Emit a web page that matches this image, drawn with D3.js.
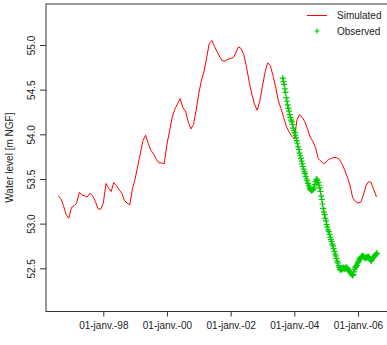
<!DOCTYPE html>
<html>
<head>
<meta charset="utf-8">
<script src="https://cdn.jsdelivr.net/npm/d3@7"></script>
<style>
  html, body { margin: 0; padding: 0; background: #fff; }
  svg { display: block; font-family: "Liberation Sans", Arial, sans-serif; }
</style>
</head>
<body>
<div id="chart"></div>
<script>
// Simulated water level, one value per month starting Aug 1996
const simStart = '1996-08-01';
const simValues = [
  53.31, 53.28, 53.20, 53.10, 53.06, 53.18, 53.20, 53.23, 53.35, 53.32,
  53.31, 53.30, 53.34, 53.31, 53.25, 53.17, 53.16, 53.23, 53.45, 53.40,
  53.36, 53.46, 53.43, 53.38, 53.34, 53.26, 53.23, 53.21, 53.39, 53.50,
  53.65, 53.78, 53.93, 53.99, 53.90, 53.82, 53.78, 53.72, 53.68, 53.68,
  53.67, 53.89, 54.04, 54.19, 54.28, 54.34, 54.40, 54.30, 54.26, 54.14,
  54.06, 54.11, 54.27, 54.46, 54.61, 54.70, 54.86, 55.02, 55.05, 54.98,
  54.92, 54.86, 54.82, 54.82, 54.84, 54.85, 54.86, 54.91, 54.98, 54.96,
  54.89, 54.76, 54.59, 54.45, 54.34, 54.27, 54.37, 54.54, 54.70, 54.80,
  54.77, 54.66, 54.53, 54.38, 54.29, 54.19, 54.09, 54.03, 53.98, 53.95,
  54.16, 54.22, 54.19, 54.14, 54.06, 53.97, 53.92, 53.85, 53.73, 53.70,
  53.67, 53.69, 53.72, 53.73, 53.74, 53.74, 53.72, 53.67, 53.60, 53.52,
  53.43, 53.29, 53.25, 53.23, 53.24, 53.31, 53.42, 53.47, 53.46, 53.38,
  53.30
];

// Observed water level, one reading every 8 days starting late Aug 2003
const obsStart = '2003-08-22';
const obsStepDays = 8;
const obsValues = [
  54.63, 54.59, 54.56, 54.51, 54.47, 54.41, 54.37, 54.33, 54.29, 54.26,
  54.22, 54.19, 54.16, 54.14, 54.11, 54.07, 54.04, 54.02, 53.99, 53.96,
  53.93, 53.90, 53.86, 53.83, 53.79, 53.76, 53.73, 53.70, 53.67, 53.64,
  53.61, 53.58, 53.56, 53.53, 53.50, 53.48, 53.45, 53.43, 53.41, 53.39,
  53.38, 53.37, 53.37, 53.38, 53.39, 53.41, 53.44, 53.47, 53.49, 53.50,
  53.48, 53.46, 53.43, 53.40, 53.36, 53.31, 53.27, 53.22, 53.17, 53.13,
  53.10, 53.06, 53.03, 52.99, 52.96, 52.93, 52.91, 52.88, 52.85, 52.82,
  52.80, 52.77, 52.75, 52.72, 52.69, 52.66, 52.64, 52.61, 52.58, 52.56,
  52.53, 52.51, 52.49, 52.48, 52.49, 52.50, 52.49, 52.51, 52.50, 52.49,
  52.51, 52.50, 52.51, 52.49, 52.48, 52.47, 52.46, 52.46, 52.44, 52.43,
  52.42, 52.43, 52.46, 52.49, 52.51, 52.52, 52.53, 52.55, 52.57, 52.58,
  52.60, 52.61, 52.62, 52.63, 52.64, 52.64, 52.63, 52.62, 52.62, 52.61,
  52.62, 52.63, 52.62, 52.63, 52.62, 52.60, 52.59, 52.58, 52.60, 52.62,
  52.63, 52.63, 52.64, 52.65, 52.66, 52.67
];

// Axis ticks
const xTickDates = ['1998-01-01', '2000-01-01', '2002-01-01', '2004-01-01', '2006-01-01'];
const xTickLabels = ['01-janv.-98', '01-janv.-00', '01-janv.-02', '01-janv.-04', '01-janv.-06'];
const yTickValues = [52.5, 53.0, 53.5, 54.0, 54.5, 55.0];

const legendLabels = ['Simulated', 'Observed'];

const width = 387;
const height = 345;
const box = { left: 46, top: 4, right: 392, bottom: 311.5 };

const parse = d3.timeParse('%Y-%m-%d');

const simData = simValues.map((v, i) => ({
  date: d3.timeMonth.offset(parse(simStart), i),
  value: v
}));
const obsData = obsValues.map((v, i) => ({
  date: d3.timeDay.offset(parse(obsStart), i * obsStepDays),
  value: v
}));

const svg = d3.select('#chart')
  .append('svg')
  .attr('width', width)
  .attr('height', height);

// Scales: anchored on the first and last labelled dates
const x = d3.scaleTime()
  .domain([parse(xTickDates[0]), parse(xTickDates[xTickDates.length - 1])])
  .range([103.3, 358]);

const y = d3.scaleLinear()
  .domain([52.5, 55.0])
  .range([268.3, 45]);

// Plot frame
svg.append('rect')
  .attr('x', box.left)
  .attr('y', box.top)
  .attr('width', box.right - box.left)
  .attr('height', box.bottom - box.top)
  .attr('fill', 'none')
  .attr('stroke', '#333')
  .attr('stroke-width', 1);

// X axis
const xAxis = d3.axisBottom(x)
  .tickValues(xTickDates.map(parse))
  .tickSize(5)
  .tickPadding(5)
  .tickFormat((d, i) => xTickLabels[i]);

svg.append('g')
  .attr('transform', `translate(0,${box.bottom})`)
  .call(xAxis)
  .call(g => g.select('.domain').remove())
  .call(g => g.selectAll('line').attr('stroke', '#333'))
  .call(g => g.selectAll('text')
    .attr('fill', '#222')
    .attr('font-size', '10px')
    .attr('font-family', '"Liberation Sans", Arial, sans-serif'));

// Y axis with labels parallel to the axis
const yAxis = d3.axisLeft(y)
  .tickValues(yTickValues)
  .tickSize(6)
  .tickFormat(d3.format('.1f'));

svg.append('g')
  .attr('transform', `translate(${box.left},0)`)
  .call(yAxis)
  .call(g => g.select('.domain').remove())
  .call(g => g.selectAll('line').attr('stroke', '#333'))
  .call(g => g.selectAll('text')
    .attr('fill', '#222')
    .attr('font-size', '10px')
    .attr('font-family', '"Liberation Sans", Arial, sans-serif')
    .attr('x', null)
    .attr('dy', null)
    .attr('text-anchor', 'middle')
    .attr('transform', 'translate(-11,0) rotate(-90)'));

// Y axis title
svg.append('text')
  .attr('transform', `translate(13,${(45 + 268.3) / 2 + 1}) rotate(-90)`)
  .attr('text-anchor', 'middle')
  .attr('fill', '#222')
  .attr('font-size', '10px')
  .text('Water level [m NGF]');

const plot = svg.append('g');

// Simulated line
const line = d3.line()
  .x(d => x(d.date))
  .y(d => y(d.value));

plot.append('path')
  .datum(simData)
  .attr('d', line)
  .attr('fill', 'none')
  .attr('stroke', '#ff0000')
  .attr('stroke-width', 1);

// Observed '+' markers
const plus = (cx, cy, r) => `M${cx - r},${cy}H${cx + r}M${cx},${cy - r}V${cy + r}`;

plot.append('path')
  .attr('d', obsData.map(d => plus(x(d.date), y(d.value), 3)).join(''))
  .attr('fill', 'none')
  .attr('stroke', '#00cd00')
  .attr('stroke-width', 1.2);

// Legend
const legend = svg.append('g');

legend.append('line')
  .attr('x1', 307).attr('x2', 327)
  .attr('y1', 15.5).attr('y2', 15.5)
  .attr('stroke', '#ff0000')
  .attr('stroke-width', 1);

legend.append('path')
  .attr('d', plus(317, 31, 2.5))
  .attr('stroke', '#00cd00')
  .attr('stroke-width', 1.2);

legend.selectAll('text.legend-label')
  .data(legendLabels)
  .enter()
  .append('text')
  .attr('class', 'legend-label')
  .attr('x', 337)
  .attr('y', (d, i) => 15.5 + i * 15.5)
  .attr('dy', '0.35em')
  .attr('fill', '#222')
  .attr('font-size', '10px')
  .text(d => d);
</script>
</body>
</html>
